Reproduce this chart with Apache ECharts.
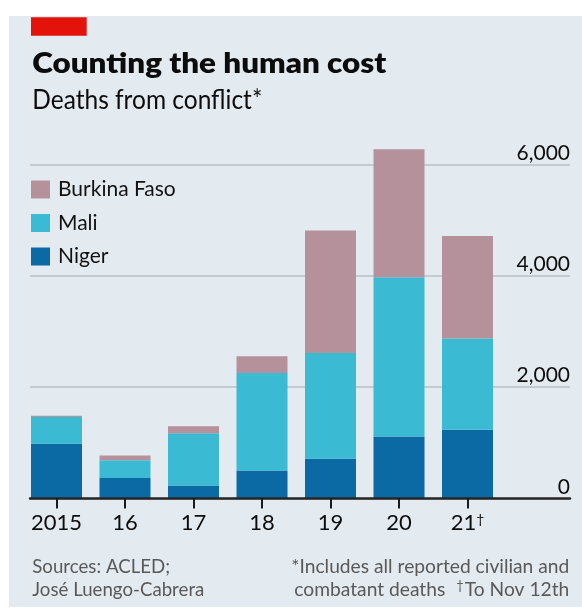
<!DOCTYPE html>
<html>
<head>
<meta charset="utf-8">
<script src="https://cdn.jsdelivr.net/npm/echarts@6/dist/echarts.min.js"></script>
<style>
  html, body { margin: 0; padding: 0; background: #ffffff; }
  #wrap { position: relative; width: 582px; height: 609px; }
  #panel { position: absolute; left: 9px; top: 15.5px; width: 573px; height: 591px; background: #e3eaf0; }
  #chart { position: absolute; left: 0; top: 0; width: 582px; height: 609px; }
</style>
</head>
<body>
<div id="wrap"><div id="panel"></div><div id="chart"></div></div>
<script>
// ---- data ----
const categories = ['2015', '16', '17', '18', '19', '20', '21'];
const niger   = [980, 365, 230, 500, 710, 1110, 1230];
const mali    = [480, 317, 940, 1750, 1900, 2860, 1640];
const burkina = [25, 85, 125, 300, 2200, 2300, 1840];
const yTicks  = [0, 2000, 4000, 6000];
const seriesNames = ['Burkina Faso', 'Mali', 'Niger'];

// ---- style ----
const C_BURKINA = '#b5929b';
const C_MALI = '#3bbad4';
const C_NIGER = '#0b69a3';

const mctx = document.createElement('canvas').getContext('2d');
function textW(text, font) { mctx.font = font; return mctx.measureText(text).width; }
function fitScale(text, font, target) { return target / textW(text, font); }

const titleFont = '800 28px Lato';
const subFont = '400 27px Lato';
const footFont = '400 20px Lato';
const sTitle = fitScale('Counting the human cost', titleFont, 354);
const sSub = fitScale('Deaths from conflict*', subFont, 230);
const sFootL = fitScale('José Luengo-Cabrera', footFont, 172);
const sFootR = fitScale('*Includes all reported civilian and', footFont, 278);
const toW = textW('To Nov 12th', footFont) * sFootR;

function txt(id, x, yMid, text, font, fill, scale, align) {
  return {
    id: id, type: 'text', x: x, y: yMid, scaleX: scale, z: 10,
    style: { x: 0, y: 0, text: text, font: font, fill: fill, align: align || 'left', verticalAlign: 'middle' }
  };
}

// plot geometry: value 0 at y=498.3, 6000 at y=164.3
const Y0 = 498.3, PX_PER = 334 / 6000;
const BAR_MAX = 6500;
const AXIS_COLOR = '#262626';

const baseGraphic = [
  { id: 'redbar', type: 'rect', z: 10, shape: { x: 31, y: 17.3, width: 55.7, height: 18.4 }, style: { fill: '#e3120b' } },
  txt('title', 32.3, 74 - 0.36 * 28, 'Counting the human cost', titleFont, '#0c0c0c', sTitle),
  txt('sub', 32.3, 110 - 0.36 * 27, 'Deaths from conflict*', subFont, '#0c0c0c', sSub),
  txt('src1', 32.3, 573.3 - 0.36 * 20, 'Sources: ACLED;', footFont, '#595959', sFootL),
  txt('src2', 32.3, 596.7 - 0.36 * 20, 'José Luengo-Cabrera', footFont, '#595959', sFootL),
  txt('note1', 569.3, 573.3 - 0.36 * 20, '*Includes all reported civilian and', footFont, '#595959', sFootR, 'right'),
  txt('note2', 294.3, 596.7 - 0.36 * 20, 'combatant deaths', footFont, '#595959', sFootR),
  txt('note3', 569.3, 596.7 - 0.36 * 20, 'To Nov 12th', footFont, '#595959', sFootR, 'right'),
  txt('dag', 569.3 - toW - 1, 586, '†', '400 13px Lato', '#595959', 1, 'right')
];

const chart = echarts.init(document.getElementById('chart'), null, { renderer: 'canvas' });
const option = {
  backgroundColor: 'transparent',
  animation: false,
  graphic: { elements: baseGraphic },
  legend: {
    data: seriesNames,
    orient: 'vertical',
    left: 31, top: 179, padding: 0,
    itemWidth: 19, itemHeight: 18, itemGap: 12.5,
    icon: 'rect',
    selectedMode: false,
    textStyle: { fontFamily: 'Lato', fontSize: 21, color: '#121212', padding: [0, 0, 0, 3] }
  },
  grid: [
    { left: 22.25, width: 479.5, top: Y0 - BAR_MAX * PX_PER, height: BAR_MAX * PX_PER },
    { left: 30, width: 540, top: 164.3, height: 334 }
  ],
  xAxis: [
    {
      gridIndex: 0, type: 'category', data: categories,
      axisLine: { show: false },
      axisTick: { show: true, alignWithLabel: true, length: 10, lineStyle: { color: '#1a1a1a', width: 2 } },
      axisLabel: {
        interval: 0, margin: 14, fontFamily: 'Lato', fontSize: 22, color: '#0d0d0d',
        formatter: function (v) { return v === '21' ? '21{d|†}' : v; },
        rich: {
          d: { fontSize: 14, fontFamily: 'Lato', color: '#0d0d0d', verticalAlign: 'top' }
        }
      },
      splitLine: { show: false }
    },
    {
      gridIndex: 1, type: 'value', min: 0, max: 1, z: 5,
      axisLine: { show: true, onZero: false, lineStyle: { color: AXIS_COLOR, width: 2.5 } },
      axisTick: { show: false }, axisLabel: { show: false }, splitLine: { show: false }
    }
  ],
  yAxis: [
    {
      gridIndex: 0, type: 'value', min: 0, max: BAR_MAX,
      axisLine: { show: false }, axisTick: { show: false }, axisLabel: { show: false }, splitLine: { show: false }
    },
    {
      gridIndex: 1, type: 'value', min: 0, max: 6000, interval: 2000, position: 'right',
      axisLine: { show: false }, axisTick: { show: false },
      axisLabel: {
        inside: true, margin: 0, verticalAlign: 'bottom', align: 'right',
        fontFamily: 'Lato', fontSize: 21, color: '#0d0d0d', padding: [0, 0, 1, 0],
        customValues: yTicks,
        formatter: function (v) { return v.toLocaleString('en-US'); }
      },
      splitLine: { show: true, lineStyle: { color: '#b9c1c7', width: 1.5 } }
    }
  ],
  series: [
    { name: 'Niger', type: 'bar', stack: 'total', barWidth: 51, data: niger, itemStyle: { color: C_NIGER } },
    { name: 'Mali', type: 'bar', stack: 'total', barWidth: 51, data: mali, itemStyle: { color: C_MALI } },
    { name: 'Burkina Faso', type: 'bar', stack: 'total', barWidth: 51, data: burkina, itemStyle: { color: C_BURKINA } }
  ]
};
chart.setOption(option);

// category ticks, placed through the chart's own category scale
const tickEls = [];
categories.forEach(function (c, i) {
  const p = chart.convertToPixel({ xAxisIndex: 0, yAxisIndex: 0 }, [c, 0]);
  if (p && isFinite(p[0]) && isFinite(p[1])) {
    tickEls.push({
      id: 'tick' + i, type: 'line', z: 20,
      shape: { x1: Math.round(p[0]), y1: p[1], x2: Math.round(p[0]), y2: p[1] + 10 },
      style: { stroke: '#1a1a1a', lineWidth: 2 }
    });
  }
});
chart.setOption({ graphic: { elements: baseGraphic.concat(tickEls) } });
</script>
</body>
</html>
